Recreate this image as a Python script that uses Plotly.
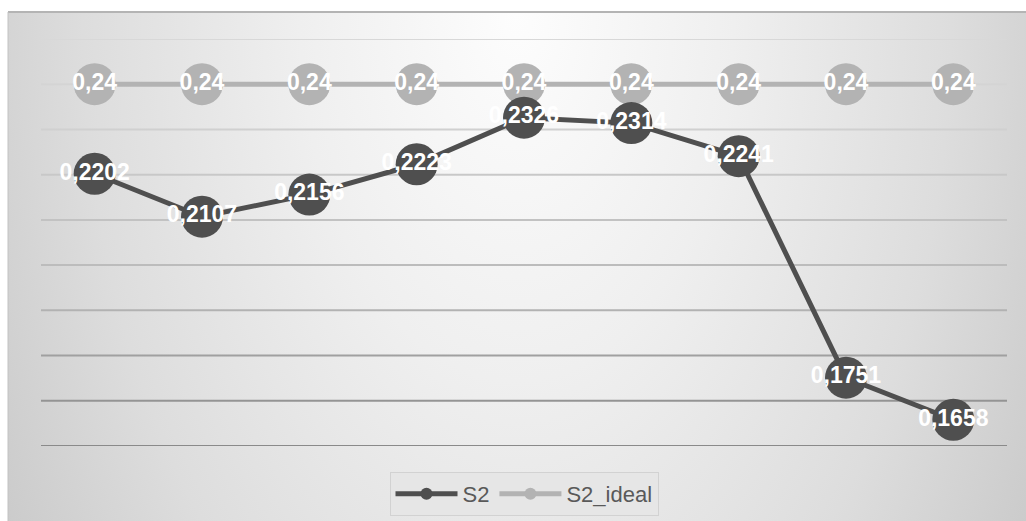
import base64
import plotly.graph_objects as go

# Series data
categories = ["1", "2", "3", "4", "5", "6", "7", "8", "9"]
s2_values = [0.2202, 0.2107, 0.2156, 0.2223, 0.2326, 0.2314, 0.2241, 0.1751, 0.1658]
s2_ideal_values = [0.24, 0.24, 0.24, 0.24, 0.24, 0.24, 0.24, 0.24, 0.24]
series_names = ["S2", "S2_ideal"]

# Value axis
y_min, y_max, y_step = 0.16, 0.25, 0.01
grid_levels = [round(y_min + i * y_step, 2) for i in range(10)]
grid_colors = ["#8a8a8a", "#949494", "#a0a0a0", "#b2b2b2", "#bcbcbc",
               "#c2c2c2", "#c8c8c8", "#d0d0d0", "#d4d4d4", "#d8d8d8"]

DARK = "#4f4f4f"
LIGHT = "#b3b3b3"

W, H = 1026, 521
L, R, T, B = 41, 19, 39, 75
pw, ph = W - L - R, H - T - B


def fmt(v, d):
    return f"{v:.{d}f}".replace(".", ",")


# Soft radial background of the chart area
bg_w, bg_h = W - 8, H - 12
cx = bg_w / 2
svg = f"""<svg xmlns='http://www.w3.org/2000/svg' width='{bg_w}' height='{bg_h}' viewBox='0 0 {bg_w} {bg_h}' preserveAspectRatio='none'>
<defs><radialGradient id='g' gradientUnits='userSpaceOnUse' cx='{cx}' cy='0' r='620'
 gradientTransform='translate({cx},0) scale(1,1.7) translate({-cx},0)'>
<stop offset='0' stop-color='#fdfdfd'/><stop offset='0.35' stop-color='#efefef'/>
<stop offset='0.7' stop-color='#dddddd'/><stop offset='1' stop-color='#c8c8c8'/>
</radialGradient></defs>
<rect x='0' y='0' width='{bg_w}' height='{bg_h}' fill='url(#g)'/></svg>"""
bg_uri = "data:image/svg+xml;base64," + base64.b64encode(svg.encode()).decode()

label_font = dict(family="Liberation Sans", size=23, color="white", weight="bold")

fig = go.Figure()

fig.add_trace(go.Scatter(
    x=categories, y=s2_ideal_values, mode="lines+markers+text",
    line=dict(color=LIGHT, width=5),
    marker=dict(color=LIGHT, size=42),
    text=[fmt(v, 2) for v in s2_ideal_values], textposition="middle center",
    textfont=label_font,
    showlegend=False, hoverinfo="skip", cliponaxis=False,
))
fig.add_trace(go.Scatter(
    x=categories, y=s2_values, mode="lines+markers+text",
    line=dict(color=DARK, width=5),
    marker=dict(color=DARK, size=42),
    text=[fmt(v, 4) for v in s2_values], textposition="middle center",
    textfont=label_font,
    showlegend=False, hoverinfo="skip", cliponaxis=False,
))

# Legend entries
for name, col in zip(series_names, [DARK, LIGHT]):
    fig.add_trace(go.Scatter(
        x=[None], y=[None], mode="lines+markers", name=name,
        line=dict(color=col, width=5), marker=dict(color=col, size=10),
    ))

shapes = []
for lvl, col in zip(grid_levels, grid_colors):
    shapes.append(dict(type="line", xref="paper", yref="y", x0=0, x1=1, y0=lvl, y1=lvl,
                       line=dict(color=col, width=2), layer="below"))
# Chart area frame
x_left = (8 - L) / pw
x_right = (W - L) / pw
y_top = (H - B - 12) / ph
shapes.append(dict(type="line", xref="paper", yref="paper", x0=x_left, x1=x_right,
                   y0=y_top, y1=y_top, line=dict(color="#b4b4b4", width=2), layer="below"))
shapes.append(dict(type="line", xref="paper", yref="paper", x0=x_left, x1=x_left,
                   y0=y_top, y1=-(B / ph), line=dict(color="#c2c2c2", width=1), layer="below"))

fig.update_layout(
    width=W, height=H,
    margin=dict(l=L, r=R, t=T, b=B, autoexpand=False),
    paper_bgcolor="white", plot_bgcolor="rgba(0,0,0,0)",
    images=[dict(source=bg_uri, xref="paper", yref="paper",
                 x=x_left, y=y_top, sizex=x_right - x_left, sizey=y_top + B / ph,
                 xanchor="left", yanchor="top", sizing="stretch", layer="below")],
    shapes=shapes,
    xaxis=dict(type="category", range=[-0.5, 8.5], showgrid=False, showticklabels=False,
               zeroline=False, showline=False, ticks=""),
    yaxis=dict(range=[y_min, y_max], showgrid=False, showticklabels=False,
               zeroline=False, showline=False, ticks=""),
    legend=dict(orientation="h", x=0.5, xanchor="center", y=-0.064, yanchor="top",
                bgcolor="#e6e6e6", bordercolor="#d2d2d2", borderwidth=1,
                font=dict(family="Liberation Sans", size=22, color="#595959"),
                itemwidth=62, itemsizing="constant", tracegroupgap=0),
)

fig.write_html("out.html")
